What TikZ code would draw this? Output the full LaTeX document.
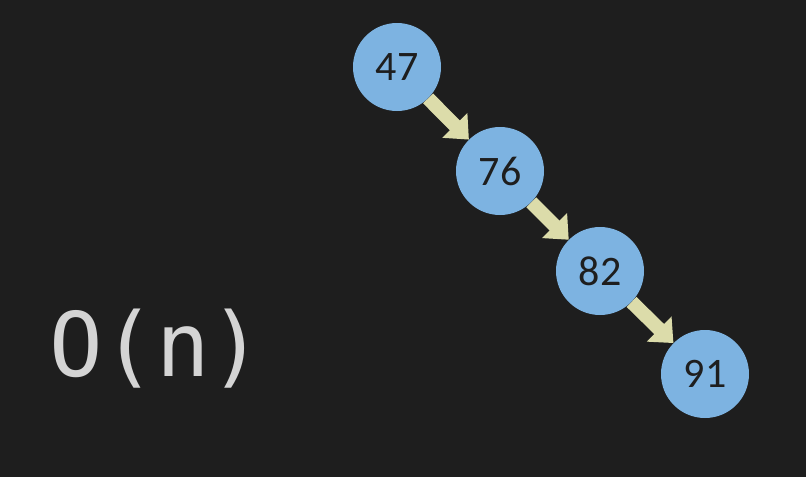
\documentclass[tikz,border=0pt]{standalone}
\usepackage{fontspec}
\usepackage{xcolor}
\usetikzlibrary{arrows.meta}
\setmainfont{Carlito}
\newfontfamily\monofont{DejaVu Sans Mono}
\definecolor{bgdark}{HTML}{1E1E1E}
\definecolor{nodeblue}{HTML}{7DB3E1}
\definecolor{arrowyellow}{HTML}{DCDCAA}
\definecolor{textgray}{HTML}{D4D4D4}
\tikzset{
  keynode/.style={circle,fill=nodeblue,minimum size=88pt,inner sep=0pt,
    text=bgdark,font=\fontsize{42}{42}\selectfont},
  link/.style={draw=arrowyellow,line width=14pt,
    -{Triangle[width=34pt,length=20pt]}}
}

\begin{document}
\begin{tikzpicture}[x=1pt,y=-1pt]
  \fill[bgdark] (0,0) rectangle (806,477);
  \useasboundingbox (0,0) rectangle (806,477);
  \node[keynode] (k47) at (397,67) {47};
  \node[keynode] (k76) at (500,171) {76};
  \node[keynode] (k82) at (600,271) {82};
  \node[keynode] (k91) at (705,374) {91};
  \draw[link] (k47) -- (k76);
  \draw[link] (k76) -- (k82);
  \draw[link] (k82) -- (k91);
  \node[anchor=base west,inner sep=0pt,text=textgray,
    font=\monofont\fontsize{89}{89}\selectfont] (cost) at (49,376) {O(n)};
\end{tikzpicture}
\end{document}
